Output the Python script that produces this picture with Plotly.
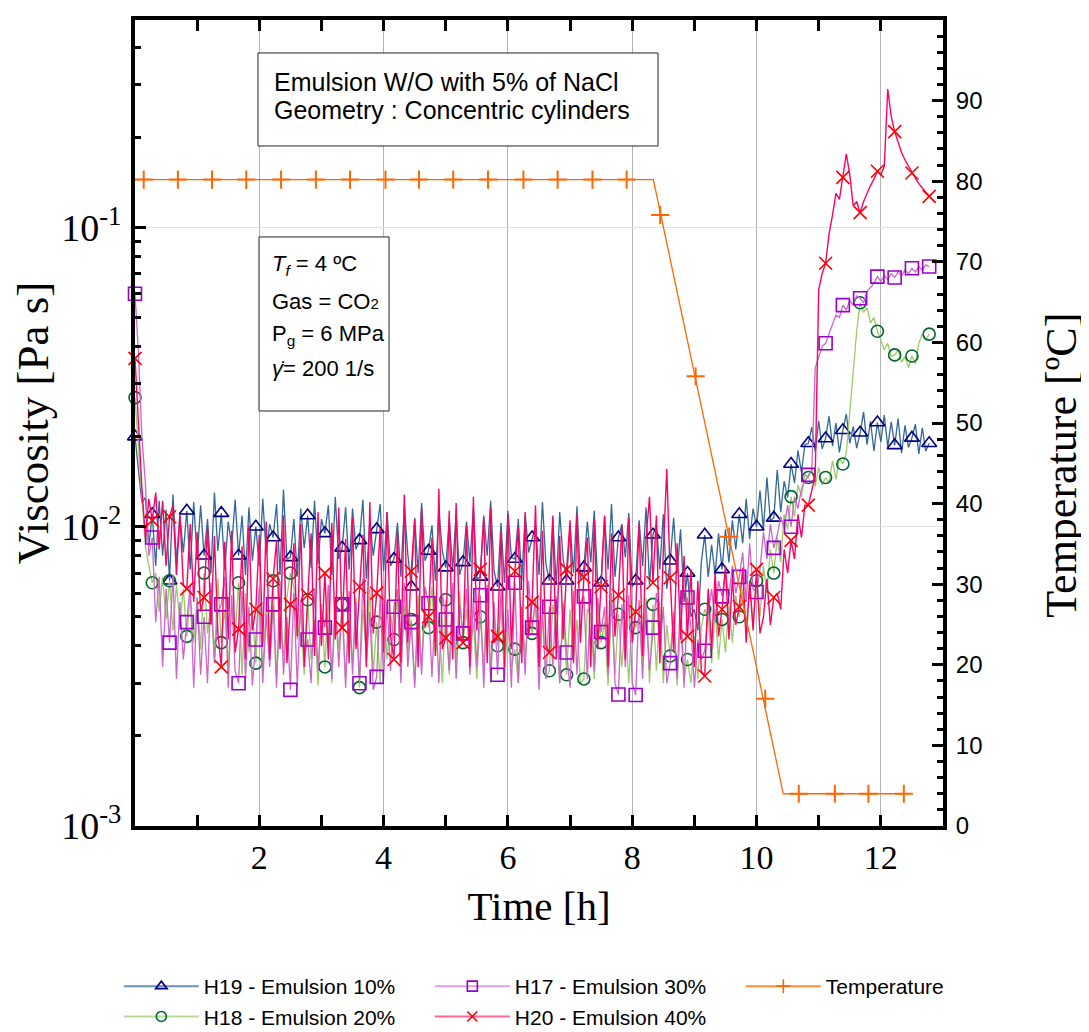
import plotly.graph_objects as go

# ---------------- data ----------------
# viscosity samples every 1/18 h (200 s), values in mPa.s
t_step_h = 1.0 / 18.0

h19_mpas = [
    20, 15.5, 12.0, 12.5, 8.6, 11.0, 7.4, 12.2, 8.0, 11.4, 6.6, 12.8, 7.6, 10.9, 8.2, 11.3, 7.2, 12.1,
    7.8, 11.8, 8.0, 10.6, 7.0, 13.0, 8.3, 11.1, 7.2, 10.4, 8.6, 12.3, 8.0, 10.9, 6.9, 11.6, 7.7, 10.0,
    7.4, 12.4, 8.1, 10.2, 9.2, 11.9, 6.9, 13.3, 7.8, 7.9, 10.6, 6.8, 11.5, 8.5, 10.9, 7.3, 12.2, 7.5,
    10.6, 9.5, 11.8, 6.9, 12.6, 7.8, 8.5, 11.6, 7.2, 11.5, 8.4, 9.0, 12.3, 6.7, 10.4, 8.0, 9.8, 11.9,
    7.1, 11.2, 7.4, 7.8, 10.3, 6.8, 11.8, 8.1, 6.3, 10.7, 7.0, 12.0, 7.7, 8.3, 10.1, 6.6, 11.4, 8.3,
    7.3, 10.6, 7.2, 11.1, 6.9, 7.6, 10.4, 7.6, 11.6, 6.7, 6.8, 10.9, 8.0, 12.2, 7.1, 6.3, 10.3, 6.5,
    11.3, 7.9, 7.8, 10.6, 6.6, 11.0, 8.2, 9.2, 10.1, 6.9, 12.1, 7.5, 6.6, 10.6, 6.4, 11.2, 7.8, 6.6,
    10.0, 7.0, 11.7, 6.7, 7.3, 10.4, 7.6, 11.3, 6.5, 6.5, 10.8, 7.2, 11.9, 6.8, 9.2, 10.2, 7.9, 11.1,
    6.3, 6.6, 10.5, 7.4, 11.6, 6.4, 9.4, 10.1, 7.2, 11.0, 6.2, 7.7, 10.7, 7.0, 9.8, 5.6, 7.0, 5.0,
    5.3, 4.5, 7.6, 9.4, 6.8, 8.7, 6.9, 9.5, 7.2, 9.8, 7.6, 10.5, 8.4, 11.0, 8.8, 12.4, 9.1, 11.5,
    10.0, 13.2, 9.8, 14.6, 10.5, 10.7, 15.5, 11.2, 14.2, 12.5, 16.2, 14.0, 18.0, 15.2, 18.8, 19.0, 21.5, 17.8,
    22.6, 18.2, 19.7, 23.4, 18.6, 22.2, 17.7, 21.0, 23.8, 19.0, 21.6, 18.3, 20.6, 24.2, 18.8, 22.5, 17.9, 22.3,
    19.2, 23.6, 18.5, 22.4, 18.7, 23.0, 17.6, 21.8, 18.4, 19.8, 22.0, 17.5, 21.4, 17.9, 19.0,
]

h18_mpas = [
    27, 18, 12, 8.6, 7.4, 6.5, 7.0, 5.2, 6.8, 4.9, 6.6, 4.5, 6.4, 4.8, 6.2, 4.3, 6.0, 4.1,
    5.8, 3.9, 7.0, 4.4, 5.6, 3.6, 6.7, 4.1, 5.3, 3.4, 5.5, 4.3, 6.5, 3.2, 6.0, 3.8, 5.2, 3.5,
    6.1, 3.3, 5.4, 4.0, 6.6, 3.1, 5.0, 3.7, 5.8, 7.0, 6.3, 4.2, 5.1, 3.2, 5.7, 3.6, 4.9, 2.95,
    5.5, 3.4, 6.0, 3.0, 5.2, 3.9, 5.5, 3.1, 5.0, 3.5, 5.8, 2.9, 5.3, 3.8, 6.2, 3.2, 4.8, 3.0,
    5.6, 3.6, 5.1, 4.2, 6.0, 3.3, 5.4, 3.8, 4.9, 3.0, 5.9, 3.4, 5.2, 4.6, 6.3, 3.7, 5.0, 3.0,
    5.7, 3.2, 5.0, 3.5, 6.1, 4.1, 5.3, 3.8, 4.8, 3.1, 5.0, 3.4, 6.2, 3.0, 5.1, 4.0, 5.5, 3.1,
    4.9, 3.4, 3.9, 3.0, 5.4, 3.7, 5.0, 4.4, 5.8, 3.3, 5.2, 3.1, 3.3, 5.5, 4.8, 3.0, 5.6, 3.2,
    5.3, 3.6, 4.9, 3.0, 3.1, 5.3, 5.1, 3.1, 5.5, 4.1, 4.8, 2.95, 5.7, 3.2, 5.1, 3.4, 4.9, 3.0,
    5.5, 4.6, 5.0, 3.5, 5.8, 3.0, 5.5, 3.3, 5.4, 3.0, 4.7, 3.7, 5.0, 2.95, 4.6, 3.1, 3.6, 3.0,
    4.3, 3.1, 4.6, 5.3, 5.0, 3.5, 5.3, 3.6, 4.9, 3.8, 5.5, 4.1, 5.9, 5.0, 6.2, 4.5, 6.5, 4.7,
    6.6, 5.0, 7.4, 6.0, 8.4, 7.0, 9.2, 7.6, 11.0, 9.8, 12.6, 10.8, 13.8, 12.6, 15.0, 14.6, 15.6, 13.6,
    15.8, 13.8, 14.6, 14.0, 16.6, 14.4, 16.9, 16.2, 17.6, 24, 33, 45, 56, 52, 54, 48, 50, 45,
    42, 39, 41, 37, 37.5, 39, 35.5, 37, 34, 37.2, 35, 41, 44, 42, 44,
]

h17_mpas = [
    60, 38, 20, 14, 8.0, 9.2, 4.8, 6.8, 3.4, 6.2, 4.1, 6.9, 3.1, 5.6, 3.6, 4.8, 6.4, 2.9,
    5.8, 3.2, 5.0, 3.0, 6.5, 3.5, 5.2, 5.5, 6.8, 2.9, 5.9, 3.3, 3.0, 6.1, 3.1, 5.4, 2.95, 4.2,
    6.3, 3.0, 5.1, 3.4, 5.5, 2.9, 6.6, 3.2, 5.0, 2.85, 6.0, 2.95, 5.7, 3.6, 4.2, 3.0, 6.2, 3.3,
    5.3, 4.6, 6.4, 3.1, 5.8, 3.4, 5.5, 2.9, 6.1, 3.2, 5.6, 3.0, 6.7, 3.5, 5.2, 2.85, 3.15, 5.9,
    3.1, 5.6, 3.3, 5.4, 6.2, 3.0, 6.5, 3.4, 4.8, 2.9, 5.1, 3.2, 6.3, 5.55, 3.15, 5.7, 3.0, 6.0,
    4.9, 3.3, 6.5, 3.1, 5.5, 4.4, 6.2, 3.2, 5.8, 3.4, 5.9, 2.9, 6.4, 3.2, 5.6, 3.2, 6.1, 3.8,
    5.3, 2.9, 6.5, 3.0, 5.4, 3.2, 6.6, 4.6, 5.7, 2.85, 5.2, 3.1, 5.4, 3.4, 5.85, 3.0, 5.5, 3.8,
    2.9, 6.1, 3.2, 5.6, 5.85, 3.1, 6.2, 3.3, 5.8, 4.45, 5.4, 3.2, 6.0, 3.0, 2.75, 5.5, 3.4, 5.9,
    3.0, 2.74, 5.7, 3.1, 5.5, 3.3, 4.6, 6.0, 3.85, 5.4, 3.0, 3.5, 5.2, 3.1, 5.85, 2.9, 5.8, 4.6,
    2.9, 4.2, 3.6, 3.85, 5.2, 6.2, 4.8, 6.6, 5.85, 7.0, 5.85, 7.4, 6.0, 6.8, 8.2, 5.6, 8.8, 6.2,
    6.05, 7.2, 9.6, 7.8, 10.2, 8.5, 9.4, 10.8, 9.9, 11.8, 10.0, 12.6, 11.5, 13.4, 14.2, 14.9, 15.5, 34,
    37, 40, 41, 44, 47, 51, 50, 55, 53, 57, 55, 59, 58, 56, 61, 63, 65, 68.5,
    66, 69, 67, 70, 68, 71, 69, 72, 70, 73, 71, 74, 72, 75, 74,
]

h20_mpas = [
    36.5, 21, 13.5, 9.2, 12.4, 10.5, 13.0, 8.4, 12.2, 7.4, 10.8, 11.8, 6.9, 11.0, 6.4, 6.2, 10.2, 5.6,
    9.6, 5.2, 5.8, 10.0, 4.7, 9.3, 4.4, 3.4, 8.9, 4.2, 9.7, 3.8, 4.55, 8.6, 3.6, 10.1, 4.5, 5.3,
    9.4, 4.1, 10.4, 3.6, 6.7, 9.0, 3.9, 10.9, 3.5, 5.5, 8.8, 4.3, 10.2, 3.4, 5.9, 9.5, 3.7, 11.2,
    4.0, 7.0, 3.6, 10.3, 4.2, 11.6, 4.6, 9.1, 3.5, 10.7, 3.9, 6.3, 9.4, 3.4, 12.1, 4.4, 6.0, 9.9,
    3.8, 11.2, 4.3, 3.6, 9.6, 3.5, 12.8, 4.1, 7.1, 10.6, 3.4, 11.5, 4.6, 5.0, 9.2, 3.7, 13.4, 3.9,
    4.25, 11.3, 3.6, 12.0, 4.4, 4.1, 10.1, 3.4, 12.6, 4.5, 7.2, 10.7, 3.5, 11.6, 4.1, 4.3, 9.6, 3.4,
    11.0, 3.9, 7.1, 9.9, 3.5, 11.2, 4.3, 5.6, 11.8, 3.4, 9.7, 4.0, 3.8, 10.9, 3.6, 9.3, 4.2, 7.2,
    10.5, 3.5, 11.0, 4.1, 6.8, 9.2, 3.4, 10.6, 3.9, 6.3, 10.9, 3.4, 9.5, 4.3, 5.9, 10.1, 3.6, 10.7,
    4.1, 5.2, 10.3, 3.7, 9.1, 12.6, 6.5, 10.9, 3.5, 8.3, 15.6, 6.75, 3.8, 8.8, 4.2, 8.0, 4.3, 7.2,
    3.4, 6.6, 3.3, 3.17, 6.2, 3.9, 7.0, 4.3, 5.3, 7.4, 4.2, 6.7, 4.7, 5.4, 7.3, 4.1, 6.6, 4.5,
    7.2, 4.4, 5.0, 6.7, 4.7, 5.8, 6.0, 5.3, 8.4, 7.0, 9.0, 7.8, 11.0, 9.2, 11.8, 11.8, 13.2, 14.8,
    62, 70, 75.9, 95, 110, 130, 124, 147, 176, 150, 118, 122, 112, 122, 130, 138, 145, 154,
    150, 160, 290, 235, 209, 192, 178, 168, 160, 152, 146, 140, 136, 131, 127,
]

# temperature (right axis, ºC)
temp_line_t = [0.0, 8.34, 10.43, 12.42]
temp_line_c = [80.2, 80.2, 4.0, 4.0]
temp_mark_t = [0.14, 0.69, 1.24, 1.79, 2.35, 2.91, 3.46, 4.03, 4.57, 5.12, 5.68, 6.25,
               6.80, 7.36, 7.91, 8.45, 9.02, 9.56, 10.14, 10.68, 11.26, 11.80, 12.37]
temp_mark_c = [80.2, 80.2, 80.2, 80.2, 80.2, 80.2, 80.2, 80.2, 80.2, 80.2, 80.2, 80.2,
               80.2, 80.2, 80.2, 75.8, 55.8, 35.9, 15.8, 4.0, 4.0, 4.0, 4.0]

x_tickvals = [2, 4, 6, 8, 10, 12]
x_minor_vals = [1, 3, 5, 7, 9, 11]
y_tickvals = [0.001, 0.01, 0.1]
y_ticktext = ["10<sup>-3</sup>", "10<sup>-2</sup>", "10<sup>-1</sup>"]
y_minor_vals = [0.002, 0.003, 0.004, 0.005, 0.006, 0.007, 0.008, 0.009,
                0.02, 0.03, 0.04, 0.05, 0.06, 0.07, 0.08, 0.09,
                0.2, 0.3, 0.4]

series = [
    # name, data, line colour, line width, marker symbol, marker colour, marker size
    ("H19 - Emulsion 10%", h19_mpas, "#336699", 1.3, "triangle-up-open", "#000080", 13),
    ("H18 - Emulsion 20%", h18_mpas, "#99CC66", 1.3, "circle-open", "#006633", 12),
    ("H17 - Emulsion 30%", h17_mpas, "#CC66CC", 1.3, "square-open", "#9900CC", 13),
    ("H20 - Emulsion 40%", h20_mpas, "#FF0066", 1.4, "x-thin-open", "#FF0000", 13),
]
TEMP_COLOR = "#FF6600"
MARK_EVERY = 5

fig = go.Figure()

for name, vals, lc, lw, sym, mc, ms in series:
    t = [i * t_step_h for i in range(len(vals))]
    y = [v / 1000.0 for v in vals]
    fig.add_trace(go.Scatter(x=t, y=y, mode="lines", line=dict(color=lc, width=lw),
                             showlegend=False, hoverinfo="skip"))
    fig.add_trace(go.Scatter(x=t[::MARK_EVERY], y=y[::MARK_EVERY], mode="markers",
                             marker=dict(symbol=sym, size=ms, color=mc, line=dict(color=mc, width=1.6)),
                             showlegend=False, cliponaxis=False, hoverinfo="skip"))

fig.add_trace(go.Scatter(x=temp_line_t, y=temp_line_c, yaxis="y2", mode="lines",
                         line=dict(color=TEMP_COLOR, width=1.3), showlegend=False, hoverinfo="skip"))
fig.add_trace(go.Scatter(x=temp_mark_t, y=temp_mark_c, yaxis="y2", mode="markers",
                         marker=dict(symbol="cross-thin-open", size=13, color=TEMP_COLOR,
                                     line=dict(color=TEMP_COLOR, width=2)),
                         showlegend=False, cliponaxis=False, hoverinfo="skip"))

# legend entries (order as in the reference legend)
legend_order = [
    ("H19 - Emulsion 10%", "#6F8FB8", "triangle-up-open", "#000080"),
    ("H17 - Emulsion 30%", "#DDA0DD", "square-open", "#9900CC"),
    ("Temperature", "#FF8C40", "cross-thin-open", TEMP_COLOR),
    ("H18 - Emulsion 20%", "#B8DC98", "circle-open", "#006633"),
    ("H20 - Emulsion 40%", "#FF6699", "x-thin-open", "#FF0000"),
]
for name, lc, sym, mc in legend_order:
    fig.add_trace(go.Scatter(x=[None], y=[None], mode="lines+markers", name=name,
                             line=dict(color=lc, width=2),
                             marker=dict(symbol=sym, size=10, color=mc, line=dict(color=mc, width=1.6))))

SERIF = "Liberation Serif"
SANS = "Liberation Sans"

# the page body adds an 8 px margin, so the figure is 8 px smaller on each axis
fig.update_layout(
    width=1081, height=1024,
    margin=dict(l=127, r=146, t=12, b=206, autoexpand=False),
    paper_bgcolor="white", plot_bgcolor="white",
    font=dict(family=SANS, color="black"),
    showlegend=True,
    legend=dict(orientation="h", x=-0.020, xanchor="left", y=-0.1737, yanchor="top",
                entrywidth=221, entrywidthmode="pixels", itemwidth=75,
                font=dict(family=SANS, size=21, color="black"), bgcolor="rgba(0,0,0,0)"),
    xaxis=dict(range=[0, 13], tickmode="array", tickvals=x_tickvals,
               ticks="inside", ticklen=11, tickwidth=2.5, tickcolor="black",
               showline=True, linewidth=4, linecolor="black", mirror="allticks",
               showgrid=True, gridcolor="#B4B4B4", gridwidth=1, zeroline=False,
               tickfont=dict(family=SERIF, size=34, color="black"), ticklabelstandoff=-2,
               title=dict(text="Time [h]", font=dict(family=SERIF, size=41, color="black"), standoff=18),
               minor=dict(tickmode="array", tickvals=x_minor_vals, ticks="inside", ticklen=6,
                          tickwidth=2.5, tickcolor="black", showgrid=False)),
    yaxis=dict(type="log", range=[-3, -0.307], tickmode="array", tickvals=y_tickvals, ticktext=y_ticktext,
               ticks="inside", ticklen=11, tickwidth=2.5, tickcolor="black",
               showline=True, linewidth=4, linecolor="black", mirror=False,
               showgrid=True, gridcolor="#E3E3E3", gridwidth=1, zeroline=False,
               tickfont=dict(family=SERIF, size=38, color="black"), ticklabelstandoff=2,
               title=dict(text="Viscosity [Pa s]", font=dict(family=SERIF, size=45, color="black"), standoff=4),
               minor=dict(tickmode="array", tickvals=y_minor_vals, ticks="inside", ticklen=6,
                          tickwidth=2.5, tickcolor="black", showgrid=False)),
    yaxis2=dict(overlaying="y", side="right", range=[0, 100], tickmode="linear", tick0=0, dtick=10,
                ticks="inside", ticklen=11, tickwidth=2.5, tickcolor="black",
                showline=True, linewidth=4, linecolor="black", showgrid=False, zeroline=False,
                tickfont=dict(family=SANS, size=24, color="black"), ticklabelstandoff=4,
                minor=dict(tickmode="linear", tick0=0, dtick=2, ticks="inside", ticklen=6,
                           tickwidth=2.5, tickcolor="black", showgrid=False)),
)

# right-axis title (sits lower than the axis centre in the reference)
fig.add_annotation(x=1.147, y=0.448, xref="paper", yref="paper", text="Temperature [ºC]",
                   textangle=-90, showarrow=False, xanchor="center", yanchor="middle",
                   font=dict(family=SERIF, size=44, color="black"))

# text boxes
box_style = dict(type="rect", xref="paper", yref="paper", line=dict(color="#222222", width=1),
                 fillcolor="white", layer="above")
fig.add_shape(x0=0.1522, x1=0.6473, y0=0.8437, y1=0.9591, **box_style)
fig.add_shape(x0=0.1535, x1=0.3144, y0=0.5149, y1=0.7308, **box_style)

box1_lines = ["Emulsion W/O with 5% of NaCl", "Geometry : Concentric cylinders"]
box1_y = [0.9234, 0.8883]
for txt, yy in zip(box1_lines, box1_y):
    fig.add_annotation(x=0.1696, y=yy, xref="paper", yref="paper", text=txt, showarrow=False,
                       xanchor="left", yanchor="middle", font=dict(family=SANS, size=25, color="black"))

box2_lines = ["<i>T<sub>f</sub></i> = 4 ºC",
              "Gas = CO<span style='font-size:15px'>2</span>",
              "P<sub>g</sub> = 6 MPa",
              "<i>\u03b3\u0307</i>= 200 1/s"]
box2_y = [0.696, 0.651, 0.609, 0.567]
for txt, yy in zip(box2_lines, box2_y):
    fig.add_annotation(x=0.1671, y=yy, xref="paper", yref="paper", text=txt, showarrow=False,
                       xanchor="left", yanchor="middle", font=dict(family=SANS, size=22, color="black"))

fig.write_html("out.html")
